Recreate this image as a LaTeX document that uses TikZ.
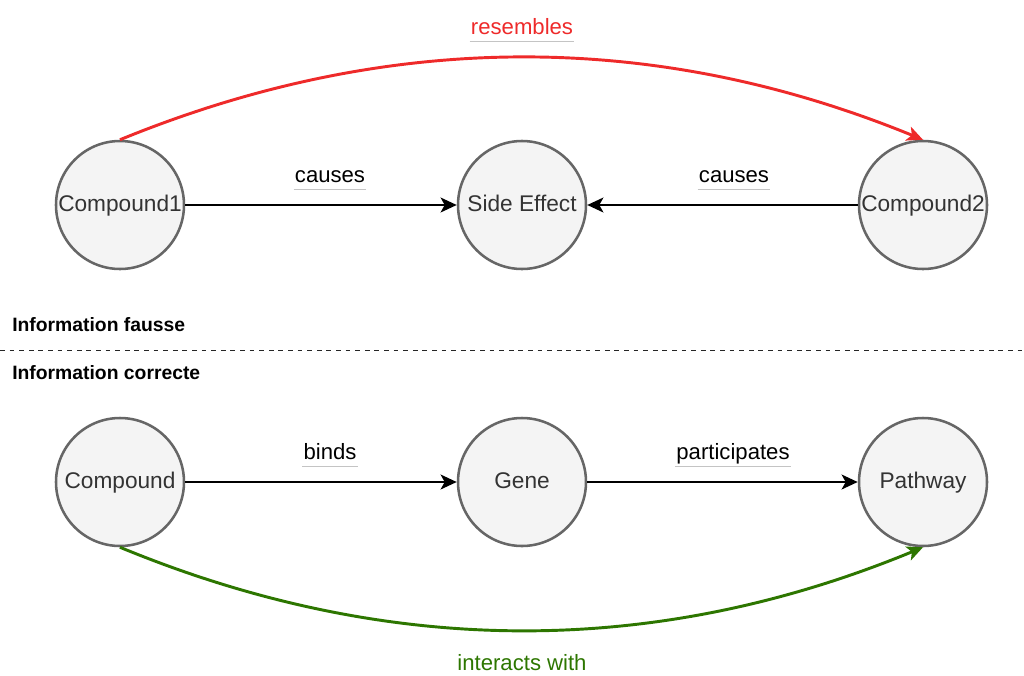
\documentclass[tikz,border=0pt]{standalone}
\usepackage{fontspec}
\setmainfont{Liberation Sans}
\usetikzlibrary{arrows.meta}
\definecolor{nodefill}{HTML}{F4F4F4}
\definecolor{nodeline}{HTML}{666666}
\definecolor{nodetext}{HTML}{333333}
\definecolor{falsered}{HTML}{EE2A2A}
\definecolor{truegreen}{HTML}{2D7600}
\definecolor{ulgrey}{HTML}{C4C4C4}
\tikzset{
  entity/.style={circle, draw=nodeline, fill=nodefill, line width=1.9pt,
    minimum size=96pt, inner sep=0pt, text=nodetext, text height=12.5pt, text depth=3.5pt,
    font=\fontsize{17}{19}\selectfont},
  rel/.style={line width=2.2pt, -{Stealth[length=12pt, width=11pt, inset=3pt]}},
  edgelabel/.style={inner xsep=0.75pt, inner ysep=0pt, text depth=5.6pt, anchor=base,
    font=\fontsize{16.6}{18}\selectfont},
  uline/.style={draw=ulgrey, line width=0.75pt},
  header/.style={anchor=base west, inner sep=0pt, font=\bfseries\fontsize{14.5}{16}\selectfont},
  separator/.style={draw=black!85, line width=0.75pt, dash pattern=on 3.6pt off 3.6pt}
}
\begin{document}
\begin{tikzpicture}[x=0.75pt, y=-0.75pt]
  \useasboundingbox (0,0) rectangle (1024,675);

  % upper panel: misleading statements
  \node[entity] (c1) at (120,205) {Compound1};
  \node[entity] (se) at (522,205) {Side Effect};
  \node[entity] (c2) at (923,205) {Compound2};

  \draw[rel] (c1) -- (se);
  \draw[rel] (c2) -- (se);
  \draw[rel, draw=falsered, color=falsered]
    (c1.north) .. controls (388,30) and (655,30) .. (c2.north);

  \node[edgelabel] (lcause1) at (330,182) {causes};
  \node[edgelabel] (lcause2) at (734,182) {causes};
  \node[edgelabel, text=falsered] (lres) at (522,34) {resembles};
  \draw[uline] (lcause1.south west) -- (lcause1.south east);
  \draw[uline] (lcause2.south west) -- (lcause2.south east);
  \draw[uline] (lres.south west) -- (lres.south east);

  % section headers and divider
  \node[header] (hfalse) at (12,331) {Information fausse};
  \coordinate (sepL) at (0,350);
  \coordinate (sepR) at (1024,350);
  \draw[separator] (sepL) -- (sepR);
  \node[header] (htrue) at (12,379) {Information correcte};

  % lower panel: valid statements
  \node[entity] (cp) at (120,482) {Compound};
  \node[entity] (gn) at (522,482) {Gene};
  \node[entity] (pw) at (923,482) {Pathway};

  \draw[rel] (cp) -- (gn);
  \draw[rel] (gn) -- (pw);
  \draw[rel, draw=truegreen, color=truegreen]
    (cp.south) .. controls (388,658) and (655,658) .. (pw.south);

  \node[edgelabel] (lbind) at (330,459) {binds};
  \node[edgelabel] (lpart) at (733,459) {participates};
  \node[edgelabel, text=truegreen] (lint) at (522,670) {interacts with};
  \draw[uline] (lbind.south west) -- (lbind.south east);
  \draw[uline] (lpart.south west) -- (lpart.south east);
\end{tikzpicture}
\end{document}
